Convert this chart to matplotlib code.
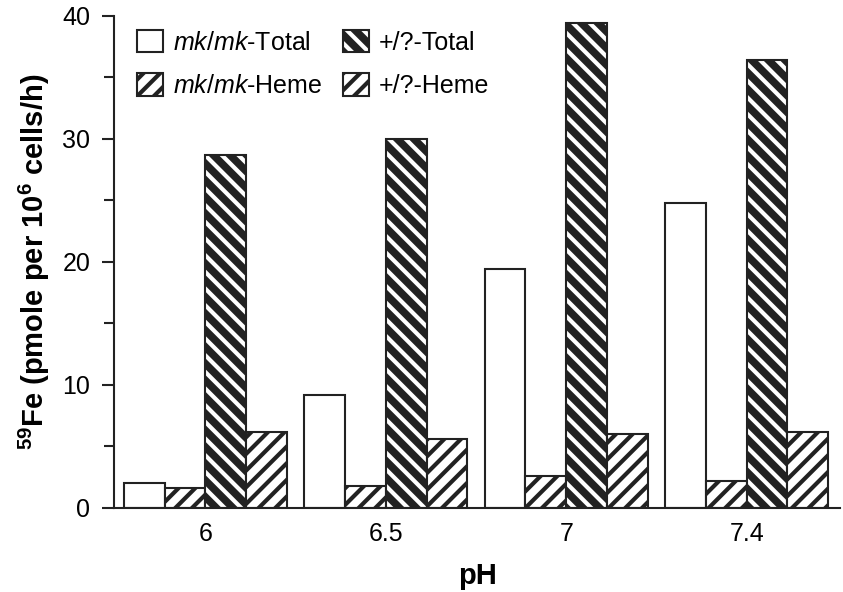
import matplotlib
matplotlib.use("Agg")
import matplotlib.pyplot as plt
from matplotlib.patches import Patch
from matplotlib.legend_handler import HandlerTuple
from matplotlib.ticker import MultipleLocator
import numpy as np

plt.rcParams['font.family'] = ['Liberation Sans', 'DejaVu Sans']
plt.rcParams['mathtext.fontset'] = 'custom'
plt.rcParams['mathtext.rm'] = 'Liberation Sans'
plt.rcParams['mathtext.it'] = 'Liberation Sans:italic'
plt.rcParams['mathtext.bf'] = 'Liberation Sans:bold'
plt.rcParams['hatch.linewidth'] = 3.0

# data
ph_labels = ['6', '6.5', '7', '7.4']
mk_total = [2.0, 9.2, 19.4, 24.8]
mk_heme = [1.6, 1.8, 2.6, 2.2]
wt_total = [28.7, 30.0, 39.4, 36.4]
wt_heme = [6.15, 5.6, 6.0, 6.2]

dark = '#222222'
x = np.arange(len(ph_labels))
w = 0.226

fig = plt.figure(figsize=(8.43, 5.92), dpi=100)
ax = fig.add_axes([0.135, 0.142, 0.862, 0.831])

ax.bar(x - 1.5 * w, mk_total, w, facecolor='white', edgecolor=dark, linewidth=1.5)
ax.bar(x - 0.5 * w, mk_heme, w, facecolor='white', edgecolor=dark, linewidth=1.5, hatch='//')
# dark bars with white hatch, then outline on top
ax.bar(x + 0.5 * w, wt_total, w, facecolor=dark, edgecolor='white', linewidth=0, hatch='\\\\')
ax.bar(x + 0.5 * w, wt_total, w, fill=False, edgecolor=dark, linewidth=1.5)
ax.bar(x + 1.5 * w, wt_heme, w, facecolor='white', edgecolor=dark, linewidth=1.5, hatch='//')

ax.set_xlim(-0.508, 3.52)
ax.set_ylim(0, 40)
ax.set_xticks(x)
ax.set_xticklabels(ph_labels)
ax.yaxis.set_major_locator(MultipleLocator(10))
ax.yaxis.set_minor_locator(MultipleLocator(5))
ax.tick_params(axis='x', length=0, labelsize=18, pad=10)
ax.tick_params(axis='y', which='major', length=9, width=1.5, labelsize=18,
               color=dark, pad=8)
ax.tick_params(axis='y', which='minor', length=7, width=1.5, color=dark)
for s in ['top', 'right']:
    ax.spines[s].set_visible(False)
for s in ['left', 'bottom']:
    ax.spines[s].set_linewidth(1.5)
    ax.spines[s].set_color(dark)

ax.set_xlabel('pH', fontsize=21, fontweight='bold', labelpad=12)
ax.set_ylabel(r'$^{\mathbf{59}}$Fe (pmole per 10$^{\mathbf{6}}$ cells/h)',
              fontsize=21, fontweight='bold', labelpad=7)

h1 = Patch(facecolor='white', edgecolor=dark, linewidth=1.5)
h2 = Patch(facecolor='white', edgecolor=dark, linewidth=1.5, hatch='//')
h3 = (Patch(facecolor=dark, edgecolor='white', linewidth=0, hatch='\\\\'),
      Patch(fill=False, edgecolor=dark, linewidth=1.5))
h4 = Patch(facecolor='white', edgecolor=dark, linewidth=1.5, hatch='//')
ax.legend([h1, h2, h3, h4],
          [r'$\it{mk/mk}$-Total', r'$\it{mk/mk}$-Heme', '+/?-Total', '+/?-Heme'],
          ncol=2, loc='upper left', bbox_to_anchor=(0.032, 0.972), frameon=False,
          fontsize=18, handlelength=1.05, handleheight=1.0, columnspacing=0.8,
          handletextpad=0.4, labelspacing=0.75, borderpad=0, borderaxespad=0,
          handler_map={tuple: HandlerTuple(ndivide=1, pad=0)})

fig.savefig('out.png', dpi=100)
